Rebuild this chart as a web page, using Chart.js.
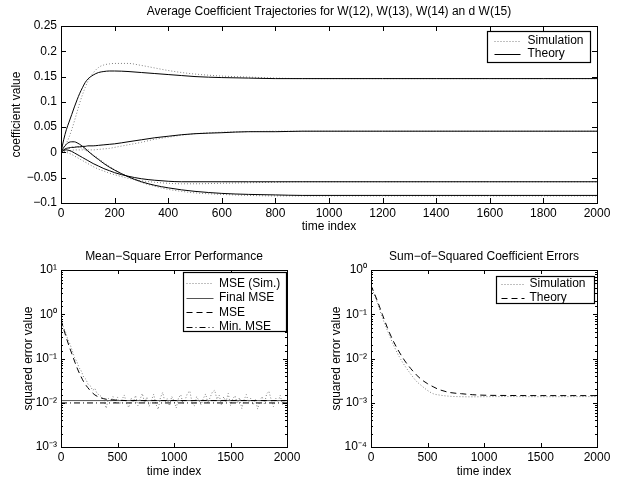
<!DOCTYPE html>
<html>
<head>
<meta charset="utf-8">
<script src="https://cdn.jsdelivr.net/npm/chart.js@4.4.1/dist/chart.umd.min.js"></script>
<style>
  html, body { margin: 0; padding: 0; background: #fff; }
  body { width: 618px; height: 481px; position: relative; overflow: hidden; }
  .pane { position: absolute; }
  #paneTop { left: 0; top: 0; width: 618px; height: 240px; }
  #paneMse { left: 0; top: 240px; width: 309px; height: 241px; }
  #paneSse { left: 309px; top: 240px; width: 309px; height: 241px; }
</style>
</head>
<body>
<div class="pane" id="paneTop"><canvas id="chartTop"></canvas></div>
<div class="pane" id="paneMse"><canvas id="chartMse"></canvas></div>
<div class="pane" id="paneSse"><canvas id="chartSse"></canvas></div>
<script>
// ---- top: average coefficient trajectories ----
const coefTime = [0, 10, 20, 30, 40, 50, 60, 70, 80, 90, 100, 120, 140, 160, 180, 200, 250, 300, 350, 400, 450, 500, 600, 700, 800, 900, 1000, 1200, 1400, 1600, 1800, 2000];
const coefATheory = [0, 0.025, 0.045, 0.06, 0.075, 0.09, 0.104, 0.117, 0.128, 0.138, 0.145, 0.153, 0.158, 0.160, 0.161, 0.161, 0.160, 0.158, 0.156, 0.154, 0.152, 0.150, 0.148, 0.147, 0.146, 0.146, 0.146, 0.146, 0.146, 0.146, 0.146, 0.146];
const coefASim = [0, 0.008, 0.018, 0.03, 0.045, 0.062, 0.08, 0.098, 0.114, 0.128, 0.14, 0.157, 0.168, 0.173, 0.175, 0.176, 0.176, 0.172, 0.167, 0.162, 0.158, 0.155, 0.151, 0.149, 0.147, 0.146, 0.146, 0.146, 0.146, 0.146, 0.146, 0.146];
const coefBTheory = [0, 0.005, 0.008, 0.009, 0.01, 0.01, 0.011, 0.011, 0.012, 0.012, 0.013, 0.013, 0.014, 0.015, 0.016, 0.017, 0.021, 0.025, 0.029, 0.032, 0.035, 0.037, 0.039, 0.041, 0.041, 0.042, 0.042, 0.042, 0.042, 0.042, 0.042, 0.042];
const coefBSim = [0, 0.001, 0.002, 0.003, 0.004, 0.005, 0.005, 0.005, 0.005, 0.005, 0.005, 0.005, 0.006, 0.007, 0.008, 0.01, 0.015, 0.02, 0.026, 0.03, 0.034, 0.037, 0.04, 0.041, 0.042, 0.042, 0.042, 0.042, 0.042, 0.042, 0.042, 0.042];
const coefCTheory = [0, 0.01, 0.016, 0.02, 0.021, 0.021, 0.019, 0.016, 0.012, 0.008, 0.003, -0.006, -0.014, -0.022, -0.029, -0.035, -0.048, -0.058, -0.065, -0.070, -0.074, -0.077, -0.081, -0.083, -0.084, -0.085, -0.085, -0.085, -0.085, -0.085, -0.085, -0.085];
const coefCSim = [0, 0.003, 0.006, 0.008, 0.01, 0.011, 0.011, 0.01, 0.008, 0.005, 0.002, -0.005, -0.012, -0.02, -0.027, -0.034, -0.048, -0.059, -0.067, -0.073, -0.077, -0.08, -0.083, -0.085, -0.086, -0.086, -0.086, -0.086, -0.086, -0.086, -0.086, -0.086];
const coefDTheory = [0, 0.004, 0.005, 0.004, 0.002, -0.001, -0.004, -0.007, -0.010, -0.013, -0.016, -0.022, -0.027, -0.032, -0.036, -0.040, -0.047, -0.052, -0.055, -0.057, -0.058, -0.058, -0.058, -0.058, -0.058, -0.058, -0.058, -0.058, -0.058, -0.058, -0.058, -0.058];
const coefDSim = [0, 0.001, 0, -0.002, -0.004, -0.007, -0.01, -0.013, -0.016, -0.019, -0.022, -0.028, -0.033, -0.037, -0.041, -0.044, -0.051, -0.056, -0.059, -0.061, -0.062, -0.062, -0.061, -0.060, -0.059, -0.058, -0.058, -0.058, -0.058, -0.058, -0.058, -0.058];

// ---- bottom left: mean-square error ----
const mseSimTime = [0, 20, 40, 60, 80, 100, 120, 140, 160, 180, 200, 220, 240, 260, 280, 300, 320, 340, 360, 380, 400, 420, 440, 460, 480,
  500, 520, 540, 560, 580, 600, 620, 640, 660, 680, 700, 720, 740, 760, 780, 800, 820, 840, 860, 880, 900, 920, 940, 960, 980,
  1000, 1020, 1040, 1060, 1080, 1100, 1120, 1140, 1160, 1180, 1200, 1220, 1240, 1260, 1280, 1300, 1320, 1340, 1360, 1380, 1400, 1420, 1440, 1460, 1480,
  1500, 1520, 1540, 1560, 1580, 1600, 1620, 1640, 1660, 1680, 1700, 1720, 1740, 1760, 1780, 1800, 1820, 1840, 1860, 1880, 1900, 1920, 1940, 1960, 1980, 2000];
const mseSim = [0.85, 0.52, 0.40, 0.27, 0.21, 0.15, 0.105, 0.085, 0.062, 0.052, 0.038, 0.034, 0.026, 0.024, 0.019, 0.021, 0.016, 0.015, 0.0135, 0.0118, 0.0075, 0.0125, 0.0108, 0.0138, 0.0094,
  0.0135, 0.0092, 0.0118, 0.0150, 0.0096, 0.0078, 0.0128, 0.0104, 0.0146, 0.0086, 0.0121, 0.0162, 0.0099, 0.0134, 0.0083, 0.0114, 0.0155, 0.0093, 0.0071, 0.0131, 0.0171, 0.0102, 0.0123, 0.0085, 0.0139,
  0.0110, 0.0076, 0.0129, 0.0152, 0.0095, 0.0119, 0.0166, 0.0183, 0.0101, 0.0084, 0.0137, 0.0113, 0.0090, 0.0126, 0.0158, 0.0098, 0.0133, 0.0175, 0.0192, 0.0120, 0.0148, 0.0088, 0.0136, 0.0105, 0.0163,
  0.0087, 0.0122, 0.0144, 0.0097, 0.0131, 0.0074, 0.0117, 0.0153, 0.0103, 0.0127, 0.0089, 0.0121, 0.0072, 0.0112, 0.0138, 0.0094, 0.0159, 0.0181, 0.0118, 0.0082, 0.0128, 0.0103, 0.0147, 0.0091, 0.0116, 0.0100];
const mseTheoryTime = [0, 25, 50, 75, 100, 125, 150, 175, 200, 250, 300, 350, 400, 500, 600, 800, 1000, 1500, 2000];
const mseTheory = [0.74, 0.45, 0.28, 0.18, 0.12, 0.08, 0.055, 0.04, 0.03, 0.02, 0.015, 0.013, 0.012, 0.0114, 0.0112, 0.0112, 0.0112, 0.0112, 0.0112];
const levelTime = [0, 2000];
const finalMse = [0.0112, 0.0112];
const minMse = [0.0099, 0.0099];

// ---- bottom right: sum of squared coefficient errors ----
const sseTime = [0, 50, 100, 150, 200, 250, 300, 350, 400, 450, 500, 550, 600, 700, 800, 900, 1000, 1200, 1500, 2000];
const sseTheory = [0.45, 0.22, 0.1, 0.046, 0.024, 0.014, 0.0088, 0.006, 0.0043, 0.0033, 0.0027, 0.0023, 0.002, 0.0017, 0.0016, 0.00152, 0.00148, 0.00146, 0.00145, 0.00145];
const sseSim = [0.42, 0.2, 0.085, 0.04, 0.02, 0.011, 0.0068, 0.0045, 0.0031, 0.0024, 0.0019, 0.0016, 0.0015, 0.0014, 0.00137, 0.00136, 0.00137, 0.00138, 0.00137, 0.00138];

// line styles
const SIM = { color: '#808080', dash: [1, 2] };
const SOLID = { color: '#000', dash: [] };
const GREY_SOLID = { color: '#555', dash: [] };
const DASHED = { color: '#000', dash: [6, 4] };
const DASHDOT = { color: '#000', dash: [6, 3, 1, 3] };

const FONT = "'Liberation Sans', Arial, Helvetica, sans-serif";
Chart.defaults.font.family = FONT;
Chart.defaults.font.size = 12;
Chart.defaults.color = '#000';

const pts = (xs, ys) => xs.map((x, i) => ({ x: x, y: ys[i] }));
const line = (label, xs, ys, st, smooth) => ({
  label: label,
  data: pts(xs, ys),
  borderColor: st.color,
  borderDash: st.dash,
  borderWidth: 1,
  pointRadius: 0,
  fill: false,
  cubicInterpolationMode: smooth ? 'monotone' : 'default',
  tension: 0
});

const sup = { '-': '\u207B', '0': '\u2070', '1': '\u00B9', '2': '\u00B2', '3': '\u00B3', '4': '\u2074' };
const isDecade = v => Math.abs(Math.log10(v) - Math.round(Math.log10(v))) < 1e-6;
const logLabel = v => isDecade(v) ? '10' + String(Math.round(Math.log10(v))).split('').map(c => sup[c]).join('') : '';
const linLabel = v => String(Number(v.toFixed(2))).replace('-', '\u2212');

// title over the axes, frame box, inward ticks on four sides, boxed legend (MATLAB look)
const matlabAxes = {
  id: 'matlabAxes',
  afterDatasetsDraw(chart, args, opts) {
    const { ctx, chartArea: a } = chart;
    const xs = chart.scales.x, ys = chart.scales.y;
    ctx.save();
    ctx.strokeStyle = '#000';
    ctx.lineWidth = 1;
    ctx.setLineDash([]);
    ctx.beginPath();
    xs.ticks.forEach(t => {
      const p = Math.round(xs.getPixelForValue(t.value)) + 0.5;
      ctx.moveTo(p, a.bottom); ctx.lineTo(p, a.bottom - opts.len);
      ctx.moveTo(p, a.top); ctx.lineTo(p, a.top + opts.len);
    });
    ys.ticks.forEach(t => {
      const len = ys.type === 'logarithmic' && !isDecade(t.value) ? opts.minor : opts.len;
      const p = Math.round(ys.getPixelForValue(t.value)) + 0.5;
      ctx.moveTo(a.left, p); ctx.lineTo(a.left + len, p);
      ctx.moveTo(a.right, p); ctx.lineTo(a.right - len, p);
    });
    ctx.stroke();
    ctx.strokeRect(Math.round(a.left) + 0.5, Math.round(a.top) + 0.5, Math.round(a.right - a.left), Math.round(a.bottom - a.top));

    ctx.font = '12px ' + FONT;
    ctx.fillStyle = '#000';
    ctx.textBaseline = 'middle';
    ctx.textAlign = 'center';
    ctx.fillText(opts.title, (a.left + a.right) / 2, a.top - opts.titleGap);

    const lg = opts.legend;
    if (lg) {
      const x0 = Math.round(a.right - lg.right - lg.width) + 0.5;
      const y0 = Math.round(a.top + lg.top) + 0.5;
      ctx.fillStyle = '#fff';
      ctx.fillRect(x0, y0, lg.width, lg.height);
      ctx.lineWidth = 1.2;
      ctx.strokeRect(x0, y0, lg.width, lg.height);
      ctx.textAlign = 'left';
      lg.entries.forEach((name, i) => {
        const ds = chart.data.datasets.find(d => d.label === name);
        const y = y0 + lg.first + i * lg.row;
        ctx.strokeStyle = ds.borderColor;
        ctx.setLineDash(ds.borderDash);
        ctx.lineWidth = 1;
        ctx.beginPath();
        ctx.moveTo(x0 + lg.lineStart, Math.round(y) + 0.5);
        ctx.lineTo(x0 + lg.lineStart + lg.lineLen, Math.round(y) + 0.5);
        ctx.stroke();
        ctx.setLineDash([]);
        ctx.fillStyle = '#000';
        ctx.fillText(name, x0 + lg.textStart, y);
      });
    }
    ctx.restore();
  }
};

const baseOptions = (cfg) => ({
  responsive: true,
  maintainAspectRatio: false,
  animation: false,
  devicePixelRatio: 1,
  events: [],
  layout: { padding: { left: 0, right: cfg.padRight, top: cfg.padTop, bottom: 0 } },
  plugins: {
    legend: { display: false },
    tooltip: { enabled: false },
    title: { display: false },
    matlabAxes: cfg.axes
  },
  scales: {
    x: {
      type: 'linear',
      min: 0, max: 2000,
      ticks: { stepSize: cfg.xStep, padding: 3, callback: v => String(v), maxRotation: 0 },
      grid: { display: false, drawTicks: false },
      border: { display: false },
      title: { display: true, text: 'time index', font: { size: 12 }, padding: { top: 0, bottom: cfg.xTitlePad } },
      afterFit: s => { s.height = cfg.xHeight; }
    },
    y: Object.assign({
      grid: { display: false, drawTicks: false },
      border: { display: false },
      title: { display: true, text: cfg.yTitle, font: { size: 12 }, padding: { top: cfg.yTitlePad, bottom: 0 } },
      afterFit: s => { s.width = cfg.yWidth; }
    }, cfg.y)
  }
});

new Chart(document.getElementById('chartTop'), {
  type: 'line',
  data: {
    datasets: [
      line('Theory', coefTime, coefATheory, SOLID, true),
      line('Theory', coefTime, coefBTheory, SOLID, true),
      line('Theory', coefTime, coefCTheory, SOLID, true),
      line('Theory', coefTime, coefDTheory, SOLID, true),
      line('Simulation', coefTime, coefASim, SIM, true),
      line('Simulation', coefTime, coefBSim, SIM, true),
      line('Simulation', coefTime, coefCSim, SIM, true),
      line('Simulation', coefTime, coefDSim, SIM, true)
    ]
  },
  options: baseOptions({
    padTop: 26,
    padRight: 21,
    xStep: 200,
    xHeight: 37,
    xTitlePad: 6.3,
    yTitle: 'coefficient value',
    yTitlePad: 9.8,
    yWidth: 61,
    y: { type: 'linear', min: -0.1, max: 0.25, ticks: { stepSize: 0.05, padding: 4, callback: linLabel } },
    axes: {
      title: 'Average Coefficient Trajectories for W(12), W(13), W(14) an d W(15)',
      titleGap: 14,
      len: 5, minor: 3,
      legend: { right: 7, top: 5, width: 103, height: 31, first: 9, row: 13.5, lineStart: 7, lineLen: 26, textStart: 40, entries: ['Simulation', 'Theory'] }
    }
  }),
  plugins: [matlabAxes]
});

new Chart(document.getElementById('chartMse'), {
  type: 'line',
  data: {
    datasets: [
      line('Min. MSE', levelTime, minMse, DASHDOT, false),
      line('MSE', mseTheoryTime, mseTheory, DASHED, true),
      line('Final MSE', levelTime, finalMse, GREY_SOLID, false),
      line('MSE (Sim.)', mseSimTime, mseSim, SIM, false)
    ]
  },
  options: baseOptions({
    padTop: 30,
    padRight: 22,
    xStep: 500,
    xHeight: 34,
    xTitlePad: 1.8,
    yTitle: 'squared error value',
    yTitlePad: 21.3,
    yWidth: 61,
    y: { type: 'logarithmic', min: 1e-3, max: 10, ticks: { autoSkip: false, padding: 4, callback: logLabel } },
    axes: {
      title: 'Mean\u2212Square Error Performance',
      titleGap: 13,
      len: 4, minor: 2,
      legend: { right: 1, top: 2, width: 103, height: 59, first: 10.7, row: 14.5, lineStart: 3, lineLen: 27, textStart: 35.5, entries: ['MSE (Sim.)', 'Final MSE', 'MSE', 'Min. MSE'] }
    }
  }),
  plugins: [matlabAxes]
});

new Chart(document.getElementById('chartSse'), {
  type: 'line',
  data: {
    datasets: [
      line('Theory', sseTime, sseTheory, DASHED, true),
      line('Simulation', sseTime, sseSim, SIM, true)
    ]
  },
  options: baseOptions({
    padTop: 30,
    padRight: 21,
    xStep: 500,
    xHeight: 34,
    xTitlePad: 1.8,
    yTitle: 'squared error value',
    yTitlePad: 20.8,
    yWidth: 62,
    y: { type: 'logarithmic', min: 1e-4, max: 1, ticks: { autoSkip: false, padding: 4, callback: logLabel } },
    axes: {
      title: 'Sum\u2212of\u2212Squared Coefficient Errors',
      titleGap: 13,
      len: 4, minor: 2,
      legend: { right: 3, top: 6, width: 98, height: 27, first: 7.3, row: 14.3, lineStart: 5, lineLen: 23, textStart: 33, entries: ['Simulation', 'Theory'] }
    }
  }),
  plugins: [matlabAxes]
});
</script>
</body>
</html>
